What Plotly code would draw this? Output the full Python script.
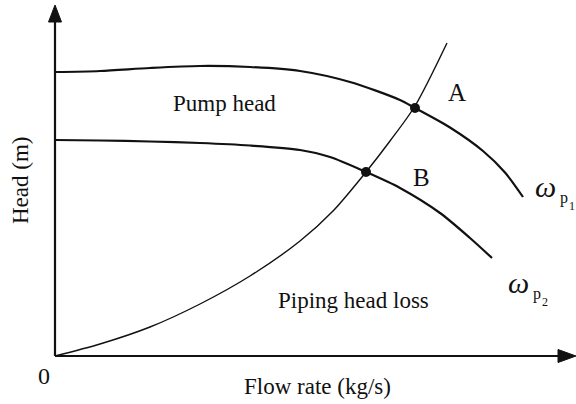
import plotly.graph_objects as go

# Flow rate (arbitrary units) and head values for the two pump speeds
pump1_flow = [0.0, 0.9, 1.9, 2.9, 3.9, 4.9, 5.9, 6.9, 7.2, 7.9, 8.56, 9.0, 9.36]
pump1_head = [5.68, 5.70, 5.76, 5.80, 5.78, 5.70, 5.48, 5.12, 4.96, 4.57, 4.10, 3.67, 3.18]

pump2_flow = [0.0, 0.9, 1.9, 2.9, 3.9, 4.9, 5.5, 6.22, 6.9, 7.7, 8.3, 8.74]
pump2_head = [4.32, 4.31, 4.29, 4.26, 4.21, 4.12, 3.98, 3.68, 3.36, 2.86, 2.36, 1.96]

# Piping system head-loss curve
pipe_flow = [0.0, 0.9, 1.9, 2.9, 3.9, 4.9, 5.56, 6.22, 6.7, 7.2, 7.84]
pipe_head = [0.0, 0.24, 0.58, 1.04, 1.60, 2.30, 2.90, 3.68, 4.30, 5.00, 6.26]

# Operating points
op_labels = ["A", "B"]
op_flow = [7.2, 6.22]
op_head = [4.96, 3.68]

X_RANGE = [-1.1, 10.42]
Y_RANGE = [-0.96, 7.12]
X_TIP = 10.42
Y_TIP = 7.02

FONT = "Liberation Serif"
INK = "#111111"

fig = go.Figure()

fig.add_trace(go.Scatter(x=pump1_flow, y=pump1_head, mode="lines",
                         line=dict(color=INK, width=2.2, shape="spline", smoothing=0.8),
                         hoverinfo="skip"))
fig.add_trace(go.Scatter(x=pump2_flow, y=pump2_head, mode="lines",
                         line=dict(color=INK, width=2.2, shape="spline", smoothing=0.8),
                         hoverinfo="skip"))
fig.add_trace(go.Scatter(x=pipe_flow, y=pipe_head, mode="lines",
                         line=dict(color=INK, width=1.4, shape="spline", smoothing=0.8),
                         hoverinfo="skip"))
fig.add_trace(go.Scatter(x=op_flow, y=op_head, mode="markers",
                         marker=dict(color=INK, size=10),
                         hoverinfo="skip"))

# Axes drawn as arrows
ax_w = 2.2
fig.add_shape(type="line", x0=0, y0=0, x1=X_TIP - 0.3, y1=0,
              line=dict(color=INK, width=ax_w))
fig.add_shape(type="line", x0=0, y0=0, x1=0, y1=Y_TIP - 0.3,
              line=dict(color=INK, width=ax_w))
hw = 0.13
fig.add_shape(type="path",
              path=f"M {X_TIP},0 L {X_TIP-0.36},{hw} L {X_TIP-0.36},{-hw} Z",
              fillcolor=INK, line=dict(color=INK, width=1))
fig.add_shape(type="path",
              path=f"M 0,{Y_TIP} L {hw},{Y_TIP-0.34} L {-hw},{Y_TIP-0.34} Z",
              fillcolor=INK, line=dict(color=INK, width=1))

def label(x, y, text, size, **kw):
    fig.add_annotation(x=x, y=y, text=text, showarrow=False,
                       font=dict(family=FONT, size=size, color=INK), **kw)

label(3.38, 5.06, "Pump head", 23)
label(5.96, 1.12, "Piping head loss", 23)
label(5.24, -0.6, "Flow rate (kg/s)", 23)
label(-0.7, 3.52, "Head (m)", 23, textangle=-90)
label(-0.22, -0.4, "0", 24)

label(8.04, 5.28, op_labels[0], 25)
label(7.32, 3.58, op_labels[1], 25)

# Speed labels ω_p1 and ω_p2
label(9.8, 3.4, "<i>ω</i>", 30)
label(10.17, 3.16, "p", 16)
label(10.33, 3.0, "1", 12)
label(9.26, 1.48, "<i>ω</i>", 30)
label(9.63, 1.24, "p", 16)
label(9.79, 1.08, "2", 12)

fig.update_layout(
    width=576, height=404,
    margin=dict(l=0, r=0, t=0, b=0),
    paper_bgcolor="white", plot_bgcolor="white",
    showlegend=False,
    xaxis=dict(range=X_RANGE, visible=False, fixedrange=True),
    yaxis=dict(range=Y_RANGE, visible=False, fixedrange=True),
)

fig.write_html("out.html")
